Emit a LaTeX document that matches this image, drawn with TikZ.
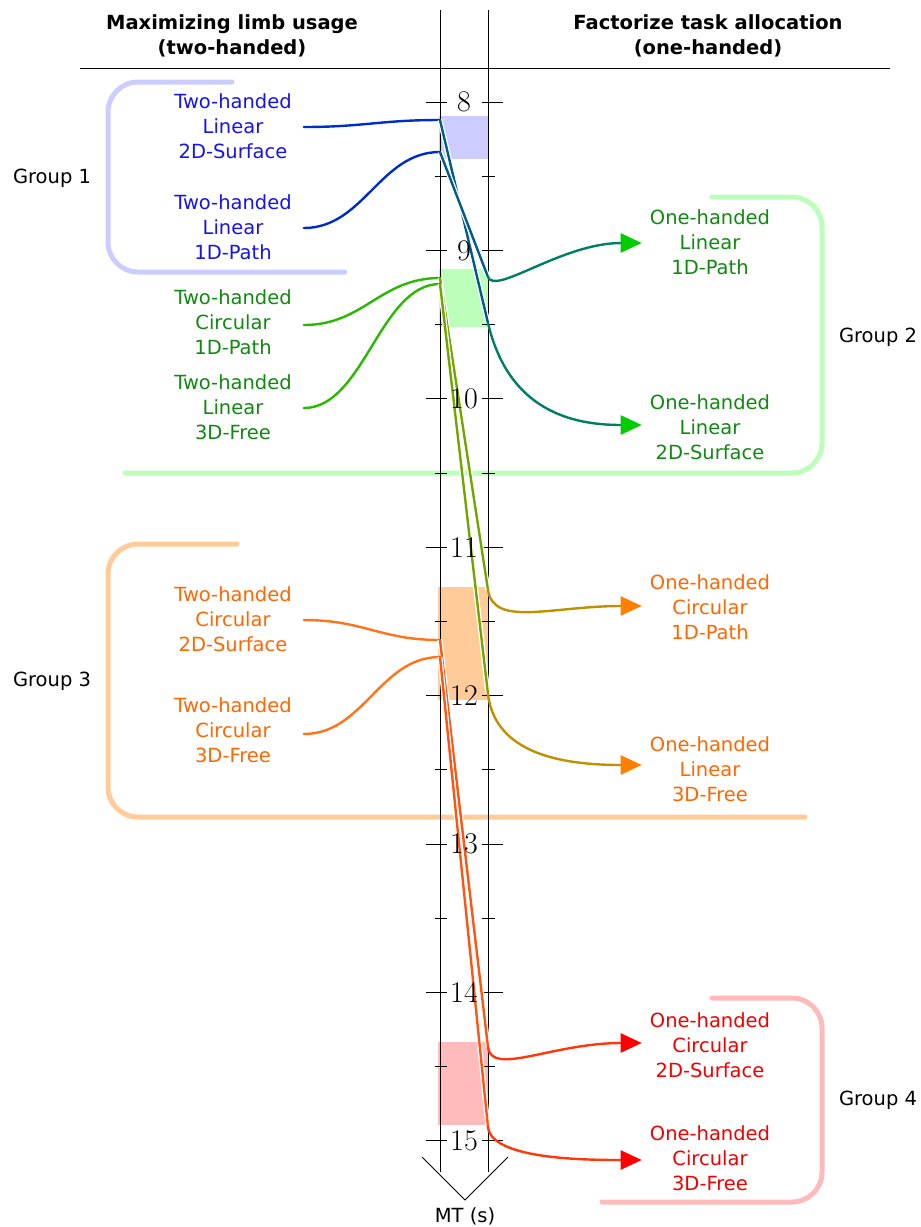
\documentclass[tikz,border=0pt]{standalone}
\usepackage{fontspec}
\usetikzlibrary{arrows.meta,calc}
\newfontfamily\dejavu{DejaVu Sans}

\definecolor{grpA}{RGB}{204,204,255}
\definecolor{grpB}{RGB}{187,255,187}
\definecolor{grpC}{RGB}{255,204,153}
\definecolor{grpD}{RGB}{255,187,187}
\definecolor{txtA}{RGB}{20,20,235}
\definecolor{txtB}{RGB}{17,136,17}
\definecolor{txtC}{RGB}{255,102,0}
\definecolor{txtD}{RGB}{240,0,0}
\definecolor{arrB}{RGB}{0,204,0}
\definecolor{arrC}{RGB}{255,128,0}
\definecolor{arrD}{RGB}{255,0,0}
\definecolor{cAa}{RGB}{0,45,195}
\definecolor{cAb}{RGB}{0,90,140}
\definecolor{cAc}{RGB}{0,125,105}
\definecolor{cBa}{RGB}{40,185,0}
\definecolor{cBb}{RGB}{115,165,0}
\definecolor{cBc}{RGB}{190,145,0}
\definecolor{cCa}{RGB}{255,115,25}
\definecolor{cCb}{RGB}{255,85,20}
\definecolor{cCc}{RGB}{255,55,10}

\tikzset{
    lbl/.style={font=\dejavu\fontsize{19.5}{25}\selectfont, align=center, inner sep=0pt},
    head/.style={lbl, font=\dejavu\bfseries\fontsize{19.5}{25}\selectfont},
    num/.style={font=\fontsize{30}{30}\selectfont, inner sep=0pt},
    axis/.style={line width=1.2pt},
    tick/.style={line width=0.9pt},
    bracket/.style={line width=5pt, line cap=round, rounded corners=30pt},
    conn/.style={line width=2.4pt, line cap=round},
    halo/.style={preaction={draw=white, line width=5pt}},
    tip/.style={-{Triangle[length=21pt,width=19pt,color=#1]}}
}

\begin{document}
\begin{tikzpicture}[x=1pt,y=-1pt]
        \useasboundingbox (0,0) rectangle (921,1227);

        % Gruppen
        \draw[bracket, grpA] (232,82) -- (108,82) -- (108,272) -- (345,272);
        \draw[bracket, grpB] (712,197) -- (822,197) -- (822,473) -- (125,473);
        \draw[bracket, grpC] (237,544) -- (108,544) -- (108,817) -- (805,817);
        \draw[bracket, grpD] (712,998) -- (822,998) -- (822,1202) -- (602,1202);
        \node[lbl] (G1) at (52,178) {Group 1};
        \node[lbl] (G2) at (878,337) {Group 2};
        \node[lbl] (G3) at (52,681) {Group 3};
        \node[lbl] (G4) at (878,1100) {Group 4};

        \fill[grpA] (439,116) rectangle (488,159);
        \fill[grpB] (439,269) rectangle (488,327);
        \fill[grpC] (438,587) rectangle (488,700);
        \fill[grpD] (438,1042) rectangle (488,1125);

        % Achse
        \node[head] (H1) at (232,36) {Maximizing limb usage\\(two-handed)};
        \node[head] (H2) at (708,36) {Factorize task allocation\\(one-handed)};
        \draw[axis] (80,68.5) -- (890,68.5);
        \draw[axis] (440.5,10) -- (440.5,1172);
        \draw[axis] (488.5,10) -- (488.5,1172);
        \foreach \v in {8.5,9.5,...,14.5} {
            \pgfmathsetmacro\yy{102+148.4*(\v-8)}
            \draw[tick] (435,\yy) -- (447,\yy);
            \draw[tick] (482,\yy) -- (495,\yy);
        }
        \foreach \v in {8,...,15} {
            \pgfmathsetmacro\yy{102+148.4*(\v-8)}
            \draw[tick] (426,\yy) -- (447,\yy);
            \draw[tick] (482,\yy) -- (503,\yy);
        }
        \draw[line width=1pt] (422,1157) -- (465,1200) -- (508,1157);
        \node[lbl] (MT) at (465,1216) {MT (s)};

        % Aufgaben
        \node[lbl, txtA] (T1) at (233,126) {Two-handed\\Linear\\2D-Surface};
        \node[lbl, txtA] (T2) at (233,227) {Two-handed\\Linear\\1D-Path};
        \node[lbl, txtB] (T3) at (233,322) {Two-handed\\Circular\\1D-Path};
        \node[lbl, txtB] (T4) at (233,407) {Two-handed\\Linear\\3D-Free};
        \node[lbl, txtC] (T5) at (233,619) {Two-handed\\Circular\\2D-Surface};
        \node[lbl, txtC] (T6) at (233,730) {Two-handed\\Circular\\3D-Free};

        \node[lbl, txtB] (O1) at (710,427) {One-handed\\Linear\\2D-Surface};
        \node[lbl, txtB] (O2) at (710,242) {One-handed\\Linear\\1D-Path};
        \node[lbl, txtC] (O3) at (710,607) {One-handed\\Circular\\1D-Path};
        \node[lbl, txtC] (O4) at (710,769) {One-handed\\Linear\\3D-Free};
        \node[lbl, txtD] (O5) at (710,1045) {One-handed\\Circular\\2D-Surface};
        \node[lbl, txtD] (O6) at (710,1158) {One-handed\\Circular\\3D-Free};

        \coordinate (L1) at (440,120);  \coordinate (R1) at (488,323);
        \coordinate (L2) at (440,152);  \coordinate (R2) at (488,277);
        \coordinate (L3) at (440,278);  \coordinate (R3) at (488,590);
        \coordinate (L4) at (440,284);  \coordinate (R4) at (488,694);
        \coordinate (L5) at (440,640);  \coordinate (R5) at (488,1047);
        \coordinate (L6) at (440,657);  \coordinate (R6) at (488,1127);

        % Relationen
        \draw[conn, cAa] ($(T1.east)+(12,1)$) .. controls +(60,0) and +(-60,0) .. (L1);
        \draw[conn, cAb, halo] (L1) -- (R1);
        \draw[conn, cAc, tip=arrB] (R1) .. controls ($(R1)!-90pt!(L1)$) and +(-70,0) .. ($(O1.west)+(-8,-2)$);

        \draw[conn, cAa] ($(T2.east)+(12,1)$) .. controls +(60,0) and +(-60,0) .. (L2);
        \draw[conn, cAb, halo] (L2) -- (R2);
        \draw[conn, cAc, tip=arrB] (R2) .. controls ($(R2)!-20pt!(L2)$) and +(-80,0) .. ($(O2.west)+(-8,1)$);

        \draw[conn, cBa] ($(T3.east)+(12,3)$) .. controls +(60,0) and +(-60,0) .. (L3);
        \draw[conn, cBb, halo] (L3) -- (R3);
        \draw[conn, cBc, tip=arrC] (R3) .. controls ($(R3)!-38pt!(L3)$) and +(-90,0) .. ($(O3.west)+(-8,-1)$);

        \draw[conn, cBa] ($(T4.east)+(12,1)$) .. controls +(60,0) and +(-60,0) .. (L4);
        \draw[conn, cBb, halo] (L4) -- (R4);
        \draw[conn, cBc, tip=arrC] (R4) .. controls ($(R4)!-60pt!(L4)$) and +(-80,0) .. ($(O4.west)+(-8,-4)$);

        \draw[conn, cCa] ($(T5.east)+(12,1)$) .. controls +(60,0) and +(-60,0) .. (L5);
        \draw[conn, cCb, halo] (L5) -- (R5);
        \draw[conn, cCc, tip=arrD] (R5) .. controls ($(R5)!-30pt!(L5)$) and +(-90,0) .. ($(O5.west)+(-8,-2)$);

        \draw[conn, cCa] ($(T6.east)+(12,4)$) .. controls +(60,0) and +(-60,0) .. (L6);
        \draw[conn, cCb, halo] (L6) -- (R6);
        \draw[conn, cCc, tip=arrD] (R6) .. controls ($(R6)!-32pt!(L6)$) and +(-60,0) .. ($(O6.west)+(-8,2)$);

        % Zahlen
        \foreach \v in {8,...,15} {
            \pgfmathsetmacro\yy{102+148.4*(\v-8)}
            \node[num] (N\v) at (464,\yy) {\v};
        }
    \end{tikzpicture}
\end{document}
